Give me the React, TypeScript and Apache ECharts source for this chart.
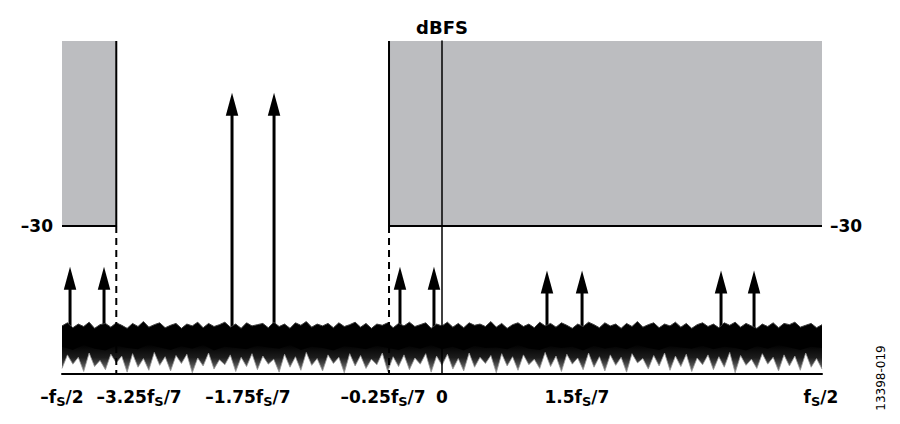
import React, { useEffect, useRef } from 'react';
import * as echarts from 'echarts';

const FONT = '"DejaVu Sans", sans-serif';

// x in units of fS/7 (schematic), y in dBFS
const xMin = -3.5;
const xMax = 3.5;
const yMin = -54;
const yMax = 0;

const tickValues = [-3.5, -2.79, -1.787, -0.543, 0, 1.243, 3.49];
const tickLabels = [
  '{n|–f}{s|S}{n|/2}',
  '{n|–3.25f}{s|S}{n|/7}',
  '{n|–1.75f}{s|S}{n|/7}',
  '{n|–0.25f}{s|S}{n|/7}',
  '{n|0}',
  '{n|1.5f}{s|S}{n|/7}',
  '{n|f}{s|S}{n|/2}',
];

const maskLevel = -30;
const maskLeft = [-3.5, -3.0];
const maskRight = [-0.488, 3.5];

const arrowX = [-3.426, -3.113, -1.934, -1.547, -0.387, -0.074, 0.967, 1.29, 2.57, 2.874];
const arrowTip = [-36.6, -36.6, -8.4, -8.4, -36.6, -36.6, -37.2, -37.2, -37.2, -37.2];
const arrowBase = -48;

// noise floor, samples evenly spaced from -fS/2 to fS/2
const noiseHigh = [
  -46.2, -45.7, -46.5, -45.9, -46.3, -45.6, -46.6, -46.0, -45.8, -46.4,
  -45.7, -46.1, -46.6, -45.8, -46.3, -45.5, -46.4, -46.0, -45.7, -46.5,
  -46.1, -45.8, -46.6, -45.9, -46.2, -45.6, -46.5, -45.8, -46.3, -46.0,
  -45.6, -46.4, -45.9, -46.6, -45.7, -46.2, -46.0, -45.8, -46.5, -45.6,
  -46.3, -45.9, -46.6, -45.7, -46.1, -45.5, -46.4, -45.9, -46.2, -45.8,
  -46.5, -45.7, -46.3, -46.0, -45.6, -46.4, -45.8, -46.6, -45.9, -46.1,
  -45.7, -46.5, -45.8, -46.2, -45.6, -46.3, -46.0, -45.7, -46.6, -45.9,
  -46.2, -45.6, -46.4, -45.8, -46.5, -45.7, -46.1, -45.9, -46.3, -45.5,
  -46.4, -45.8, -46.6, -46.0, -45.7, -46.3, -45.9, -46.5, -45.6, -46.2,
  -45.8, -46.4, -45.7, -46.1, -46.6, -45.9, -46.3, -45.6, -46.0, -46.5,
  -45.7, -46.2, -45.9, -46.6, -45.8, -46.3, -45.5, -46.4, -46.0, -45.7,
  -46.5, -45.9, -46.2, -45.6, -46.4, -45.8, -46.6, -46.0, -45.7, -46.3,
  -45.9, -46.5, -45.7, -46.1, -45.6, -46.4, -45.8, -46.2, -46.6, -45.9,
  -46.3, -45.7, -46.5, -45.8, -46.0, -45.6, -46.4, -46.1, -45.8, -46.5,
  -46.0,
];
const coreLow = [
  -49.6, -50.1, -49.3, -49.9, -50.2, -49.4, -49.8, -50.0, -49.2, -49.7,
  -50.1, -49.5, -49.9, -49.3, -50.2, -49.6, -49.8, -50.0, -49.4, -49.7,
  -49.9, -49.3, -50.1, -49.6, -49.8, -50.2, -49.5, -49.7, -50.0, -49.4,
  -49.8, -50.1, -49.5, -49.9, -49.3, -50.0, -49.6, -50.2, -49.4, -49.8,
  -49.7, -50.0, -49.3, -49.9, -50.1, -49.5, -49.8, -49.6, -50.2, -49.4,
  -49.9, -49.6, -50.0, -49.3, -49.8, -50.1, -49.5, -49.7, -49.9, -49.4,
  -50.0, -49.6, -49.8, -50.2, -49.5, -49.9, -49.3, -49.7, -50.1, -49.6,
  -49.8,
];
const noiseLow = [
  -53.1, -50.9, -52.4, -51.3, -53.6, -50.6, -52.8, -51.8, -53.3, -50.8,
  -52.2, -51.1, -53.7, -50.7, -52.9, -51.5, -53.4, -50.5, -52.6, -51.2,
  -53.5, -51.0, -52.3, -50.8, -53.8, -51.4, -52.7, -50.6, -53.2, -51.7,
  -52.5, -50.9, -53.6, -51.3, -52.8, -50.7, -53.3, -51.1, -52.4, -51.6,
  -53.7, -50.8, -52.9, -51.2, -53.4, -50.5, -52.6, -51.5, -53.5, -50.9,
  -52.3, -51.3, -53.8, -50.7, -52.7, -51.0, -53.1, -51.6, -52.5, -50.6,
  -53.6, -51.2, -52.8, -50.9, -53.3, -51.4, -52.4, -50.7, -53.7, -51.1,
  -52.6, -50.8, -53.2, -51.5, -53.5, -50.6, -52.9, -51.3, -52.3, -51.0,
  -53.8, -50.7, -52.7, -51.2, -53.4, -50.9, -52.5, -51.6, -53.1, -50.5,
  -52.8, -51.1, -53.6, -50.8, -52.4, -51.4, -53.3, -50.6, -52.9, -51.2,
  -53.5, -50.9, -52.6, -51.3, -53.7, -50.7, -52.2, -51.5, -53.2, -51.0,
  -52.7, -50.6, -53.4, -51.1, -52.8, -50.8, -53.6, -51.4, -52.5, -50.9,
  -53.3, -51.2, -52.9, -50.5, -53.8, -51.0, -52.6, -51.6, -53.1, -50.7,
  -52.4, -51.3, -53.5, -50.9, -52.7, -51.1, -53.4, -50.6, -52.9, -51.5,
  -53.2,
];

const App: React.FC = () => {
  const chartRef = useRef<HTMLDivElement>(null);

  useEffect(() => {
    if (!chartRef.current) return;
    const chart = echarts.init(chartRef.current, null, { renderer: 'svg' });

    const toPts = (arr: number[]) => {
      const step = (xMax - xMin) / (arr.length - 1);
      return arr.map((v, i) => [+(xMin + i * step).toFixed(4), v]);
    };

    const edge = { color: '#000', width: 2 };
    const band = (name: string, arr: number[], fill: any, line: any) => ({
      type: 'line',
      name,
      z: 5,
      symbol: 'none',
      lineStyle: line,
      areaStyle: { opacity: 1, color: fill, origin: 'start' },
      data: toPts(arr),
    });

    chart.setOption({
      animation: false,
      backgroundColor: '#fff',
      grid: { left: 62, right: 78, top: 41, bottom: 50, outerBoundsMode: 'none' },
      xAxis: {
        type: 'value',
        min: xMin,
        max: xMax,
        z: 10,
        axisLine: { onZero: false, lineStyle: { color: '#000', width: 2 } },
        axisTick: { show: false },
        splitLine: { show: false },
        axisLabel: {
          customValues: tickValues,
          margin: 12,
          formatter: (v: number) => {
            const k = tickValues.findIndex((t) => Math.abs(t - v) < 1e-6);
            return k >= 0 ? tickLabels[k] : '';
          },
          rich: {
            n: { fontFamily: FONT, fontWeight: 'bold', fontSize: 17, color: '#000', lineHeight: 22 },
            s: { fontFamily: FONT, fontWeight: 'bold', fontSize: 13, color: '#000', lineHeight: 11, verticalAlign: 'bottom' },
          },
        },
      },
      yAxis: [
        {
          type: 'value',
          min: yMin,
          max: yMax,
          z: 10,
          name: 'dBFS',
          nameLocation: 'end',
          nameGap: 5,
          nameTextStyle: { fontFamily: FONT, fontWeight: 'bold', fontSize: 18, color: '#000' },
          axisLine: { show: true, onZero: true, lineStyle: { color: '#000', width: 1.5 } },
          axisTick: { show: false },
          axisLabel: { show: false },
          splitLine: { show: false },
        },
        {
          type: 'value',
          position: 'left',
          min: yMin,
          max: yMax,
          axisLine: { show: false },
          axisTick: { show: false },
          splitLine: { show: false },
          axisLabel: {
            customValues: [maskLevel],
            margin: 9,
            formatter: () => '–30',
            fontFamily: FONT,
            fontWeight: 'bold',
            fontSize: 17,
            color: '#000',
          },
        },
        {
          type: 'value',
          position: 'right',
          min: yMin,
          max: yMax,
          axisLine: { show: false },
          axisTick: { show: false },
          splitLine: { show: false },
          axisLabel: {
            customValues: [maskLevel],
            margin: 8,
            formatter: () => '–30',
            fontFamily: FONT,
            fontWeight: 'bold',
            fontSize: 17,
            color: '#000',
          },
        },
      ],
      graphic: [
        {
          type: 'text',
          x: 881,
          y: 378,
          rotation: Math.PI / 2,
          style: {
            text: '13398-019',
            fontFamily: FONT,
            fontSize: 12,
            fill: '#000',
            align: 'center',
            verticalAlign: 'middle',
          },
        },
      ],
      series: [
        {
          type: 'line',
          name: 'maskLeft',
          z: 3,
          symbol: 'none',
          lineStyle: edge,
          data: [
            [maskLeft[0], maskLevel],
            [maskLeft[1], maskLevel],
            [maskLeft[1], yMax],
          ],
          markArea: {
            silent: true,
            itemStyle: { color: '#bcbdc0' },
            data: [
              [{ coord: [maskLeft[0], maskLevel] }, { coord: [maskLeft[1], yMax] }],
              [{ coord: [maskRight[0], maskLevel] }, { coord: [maskRight[1], yMax] }],
            ],
          },
        },
        {
          type: 'line',
          name: 'maskRight',
          z: 3,
          symbol: 'none',
          lineStyle: edge,
          data: [
            [maskRight[0], yMax],
            [maskRight[0], maskLevel],
            [maskRight[1], maskLevel],
          ],
        },
        {
          type: 'custom',
          name: 'tones',
          z: 4,
          encode: { x: 0, y: [1, 2] },
          data: arrowX.map((x, i) => [x, arrowBase, arrowTip[i]]),
          renderItem: (_p: any, api: any) => {
            const p0 = api.coord([api.value(0), api.value(1)]);
            const p1 = api.coord([api.value(0), api.value(2)]);
            const hh = 23;
            const hw = 12.5;
            return {
              type: 'group',
              children: [
                {
                  type: 'line',
                  shape: { x1: p0[0], y1: p0[1], x2: p1[0], y2: p1[1] + hh - 2 },
                  style: { stroke: '#000', lineWidth: 3 },
                },
                {
                  type: 'polygon',
                  shape: {
                    points: [
                      [p1[0], p1[1]],
                      [p1[0] - hw / 2, p1[1] + hh],
                      [p1[0] + hw / 2, p1[1] + hh],
                    ],
                  },
                  style: { fill: '#000' },
                },
              ],
            };
          },
        },
        // noise floor painted top-down: black core, grey fringe, white below
        band('noiseTop', noiseHigh, '#000', { width: 1, color: '#3a3a3a' }),
        band(
          'noiseFringe',
          coreLow,
          new echarts.graphic.LinearGradient(0, 0, 0, 1, [
            { offset: 0, color: '#000' },
            { offset: 0.45, color: '#1c1c1c' },
            { offset: 1, color: '#8e8e8e' },
          ]),
          { width: 0 }
        ),
        band('noiseBottom', noiseLow, '#fff', { width: 0.8, color: '#999' }),
        {
          type: 'line',
          name: 'dashLeft',
          z: 6,
          symbol: 'none',
          lineStyle: { color: '#000', width: 2, type: [7, 5] },
          data: [
            [maskLeft[1], maskLevel],
            [maskLeft[1], yMin],
          ],
        },
        {
          type: 'line',
          name: 'dashRight',
          z: 6,
          symbol: 'none',
          lineStyle: { color: '#000', width: 2, type: [7, 5] },
          data: [
            [maskRight[0], maskLevel],
            [maskRight[0], yMin],
          ],
        },
      ],
    });

    return () => {
      chart.dispose();
    };
  }, []);

  return (
    <div
      ref={chartRef}
      style={{ position: 'fixed', left: 0, top: 0, width: '900px', height: '424px', background: '#fff' }}
    ></div>
  );
};

export default App;
